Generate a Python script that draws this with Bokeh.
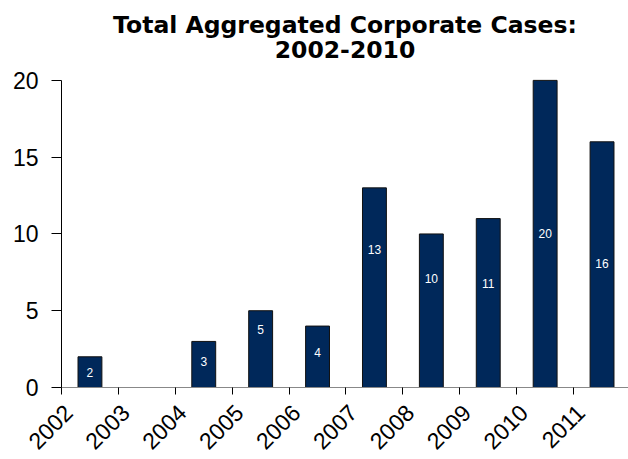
import math
from bokeh.plotting import figure
from bokeh.models import ColumnDataSource, LabelSet, FixedTicker, Title
from bokeh.core.properties import value
from bokeh.embed import file_html
from bokeh.resources import INLINE

years = ["2002", "2003", "2004", "2005", "2006", "2007", "2008", "2009", "2010", "2011"]
cases = [2, 0, 3, 5, 4, 13, 10, 11, 20, 16]
# vertical position (in case units) of the number printed inside each bar
label_pos = [1.0, None, 1.7, 3.8, 2.3, 9.0, 7.1, 6.75, 10.05, 8.1]
y_ticks = [0, 5, 10, 15, 20]

idx = list(range(len(years)))
bar_x = [i + 0.5 for i in idx]
year_label_x = [i + 0.12 for i in idx]

src = ColumnDataSource(dict(x=bar_x, top=cases))
lab_idx = [i for i, v in enumerate(cases) if v > 0]
lab_src = ColumnDataSource(dict(
    x=[bar_x[i] for i in lab_idx],
    y=[label_pos[i] for i in lab_idx],
    t=[str(cases[i]) for i in lab_idx],
))

p = figure(width=628, height=459, output_backend="svg", toolbar_location=None,
           x_range=(0, 9.965), y_range=(0, 21.49),
           min_border_left=61, min_border_right=0, min_border_top=57, min_border_bottom=71)

p.title = Title(text="Total Aggregated Corporate Cases:", align="center",
                text_font="DejaVu Sans", text_font_size="23.5px", text_font_style="bold",
                text_color="black", standoff=0)
p.add_layout(Title(text="2002-2010", align="center",
                   text_font="DejaVu Sans", text_font_size="23.5px", text_font_style="bold",
                   text_color="black", standoff=0), "above")

p.vbar(x="x", top="top", bottom=0, width=0.42, source=src,
       fill_color="#00285a", line_color="#111111", line_width=1)

p.add_layout(LabelSet(x="x", y="y", text="t", source=lab_src, text_align="center",
                      text_baseline="middle", text_color="white",
                      text_font=value("Liberation Sans"), text_font_size=value("12px")))

p.grid.visible = False
p.outline_line_color = None

# tick marks at the year boundaries (minor ticks), labels shifted like the original
p.xaxis.ticker = FixedTicker(ticks=year_label_x, minor_ticks=idx)
p.xaxis.major_label_overrides = {x: t for x, t in zip(year_label_x, years)}
p.xaxis.major_label_orientation = math.pi / 4
p.xaxis.major_label_text_font = "Liberation Sans"
p.xaxis.major_label_text_font_size = "23px"
p.xaxis.major_label_text_color = "black"
p.xaxis.major_label_standoff = 14
p.xaxis.axis_line_color = "#888888"
p.xaxis.major_tick_line_color = None
p.xaxis.minor_tick_line_color = "black"
p.xaxis.minor_tick_out = 7
p.xaxis.minor_tick_in = 0

p.yaxis.ticker = FixedTicker(ticks=y_ticks)
p.yaxis.bounds = (0, 20)
p.yaxis.axis_line_color = "black"
p.yaxis.major_tick_line_color = "black"
p.yaxis.major_tick_out = 10
p.yaxis.major_tick_in = 0
p.yaxis.minor_tick_line_color = None
p.yaxis.major_label_text_font = "Liberation Sans"
p.yaxis.major_label_text_font_size = "23px"
p.yaxis.major_label_text_color = "black"
p.yaxis.major_label_standoff = 13

open("out.html", "w").write(file_html(p, INLINE))
